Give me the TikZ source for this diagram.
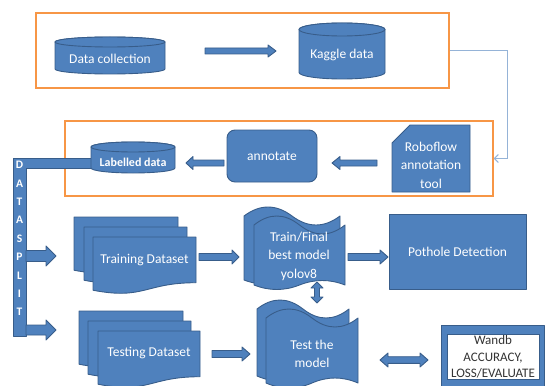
\documentclass[tikz,border=0pt]{standalone}
\usepackage{fontspec}
\setmainfont{Carlito}
\usetikzlibrary{arrows.meta}
\definecolor{fillb}{HTML}{4F81BD}
\definecolor{lineb}{HTML}{385D8A}
\definecolor{orng}{HTML}{F79646}
\definecolor{conn}{HTML}{95B3D7}
\tikzset{
  shp/.style={fill=fillb, draw=lineb, line width=0.9pt, line join=round},
  frame/.style={draw=orng, line width=1.3pt, inner sep=0pt},
  lbl/.style={text=white, font=\fontsize{13.5}{18.5}\selectfont, align=center, inner sep=0pt},
  lblb/.style={text=white, font=\fontsize{12}{13}\selectfont\bfseries, align=center, inner sep=0pt},
  dsl/.style={text=white, font=\fontsize{11.5}{12}\selectfont\bfseries, inner sep=0pt},
  wtxt/.style={text=black!80, font=\fontsize{13}{16.5}\selectfont, align=center, inner sep=0pt},
  conline/.style={draw=conn, line width=1pt, -{Straight Barb[length=4pt,width=8pt]}}
}
% cylinder: x1 x2 ytop ybot ry
\newcommand\cylndr[5]{%
  \filldraw[shp] (#1,#3+#5) -- (#1,#4-#5) arc[start angle=180,end angle=0,x radius={(#2-#1)/2},y radius=#5] -- (#2,#3+#5) arc[start angle=0,end angle=-180,x radius={(#2-#1)/2},y radius=#5] -- cycle;
  \draw[shp] ({(#1+#2)/2},#3+#5) ellipse[x radius={(#2-#1)/2},y radius=#5];}
% block arrows: x1 x2 y s hh hl
\newcommand\rarr[6]{\filldraw[shp] (#1,#3-#4) -- (#2-#6,#3-#4) -- (#2-#6,#3-#5) -- (#2,#3) -- (#2-#6,#3+#5) -- (#2-#6,#3+#4) -- (#1,#3+#4) -- cycle;}
\newcommand\larr[6]{\filldraw[shp] (#2,#3-#4) -- (#1+#6,#3-#4) -- (#1+#6,#3-#5) -- (#1,#3) -- (#1+#6,#3+#5) -- (#1+#6,#3+#4) -- (#2,#3+#4) -- cycle;}
\newcommand\hdarr[6]{\filldraw[shp] (#1,#3) -- (#1+#6,#3-#5) -- (#1+#6,#3-#4) -- (#2-#6,#3-#4) -- (#2-#6,#3-#5) -- (#2,#3) -- (#2-#6,#3+#5) -- (#2-#6,#3+#4) -- (#1+#6,#3+#4) -- (#1+#6,#3+#5) -- cycle;}
% vertical double arrow: x y1 y2 s hw hl
\newcommand\vdarr[6]{\filldraw[shp] (#1,#2) -- (#1+#5,#2+#6) -- (#1+#4,#2+#6) -- (#1+#4,#3-#6) -- (#1+#5,#3-#6) -- (#1,#3) -- (#1-#5,#3-#6) -- (#1-#4,#3-#6) -- (#1-#4,#2+#6) -- (#1-#5,#2+#6) -- cycle;}
% document: x y w h
\newcommand\docshp[4]{\filldraw[shp] (#1,#2) -- (#1+#3,#2) -- (#1+#3,#2+0.802*#4) .. controls (#1+0.5*#3,#2+0.802*#4) and (#1+0.5*#3,#2+1.1075*#4) .. (#1,#2+0.934*#4) -- cycle;}
% punched tape: x y w h a(top) b(bottom); top peak at y, bottom corners at y+h
\newcommand\tapeshp[6]{\filldraw[shp] (#1,#2+#5) .. controls (#1+0.1667*#3,#2-#5/3) and (#1+0.3333*#3,#2-#5/3) .. (#1+0.5*#3,#2+#5) .. controls (#1+0.6667*#3,#2+7*#5/3) and (#1+0.8333*#3,#2+7*#5/3) .. (#1+#3,#2+#5) -- (#1+#3,#2+#4) .. controls (#1+0.8333*#3,#2+#4-4*#6/3) and (#1+0.6667*#3,#2+#4-4*#6/3) .. (#1+0.5*#3,#2+#4) .. controls (#1+0.3333*#3,#2+#4+4*#6/3) and (#1+0.1667*#3,#2+#4+4*#6/3) .. (#1,#2+#4) -- cycle;}
\begin{document}
\begin{tikzpicture}[x=1pt,y=-1pt]
\useasboundingbox (0,0) rectangle (548,385);
% frames
\node[frame, minimum width=413pt, minimum height=75pt] (topframe) at (242.5,50.5) {};
\node[frame, minimum width=428pt, minimum height=75pt] (midframe) at (279,158.5) {};
\draw[conline] (topframe.east) -- ++(58,0) |- (midframe.east);
% top row
\cylndr{55}{165}{37}{74}{5}
\node[lbl] (datacol) at (110,59) {Data collection};
\rarr{205}{276}{51}{3}{6}{8}
\cylndr{299}{385}{23}{79}{6.5}
\node[lbl] (kaggle) at (342,55) {Kaggle data};
% datasplit bar
\filldraw[shp] (13,158) -- (95,158) -- (95,168) -- (26,168) -- (26,336) -- (13,336) -- cycle;
\foreach \ch [count=\i from 0] in {D,A,T,A,S,P,L,I,T}
  \node[dsl] (ds\i) at (19.5,{165+18.4*\i}) {\ch};
% middle row
\cylndr{91}{175}{142}{173}{5}
\node[lblb] (labelled) at (133,162) {Labelled data};
\larr{186}{224}{163}{3}{6.5}{7}
\node[shp, rounded corners=8pt, minimum width=90pt, minimum height=52pt, lbl] (annot) at (272,156) {annotate};
\larr{332}{377}{163}{3}{6.5}{8}
\filldraw[shp] (410,125) -- (470,125) -- (470,192) -- (392,192) -- (392,143) -- cycle;
\node[lbl] (robo) at (431,165) {Roboflow\\annotation\\tool};
% datasplit arrows
\rarr{26}{56}{256}{5.5}{10}{10}
\rarr{26}{56}{330}{5}{10}{10}
% training dataset
\docshp{74}{217}{104}{57}
\docshp{84}{227}{103}{57}
\docshp{93}{237}{103}{57}
\node[lbl] (train) at (144.5,260) {Training Dataset};
\rarr{199}{239}{257}{3.5}{7}{7}
% testing dataset
\docshp{79}{311}{104}{57}
\docshp{88}{321}{103}{57}
\docshp{98}{331}{102}{57}
\node[lbl] (test) at (149,353) {Testing Dataset};
\rarr{212}{250}{354}{3.5}{7}{8}
% train / final model
\tapeshp{244}{207}{96}{73}{9}{4.5}
\tapeshp{254}{216}{91}{69}{9}{4.5}
\node[lbl] (model) at (299,256) {Train/Final\\best model\\yolov8};
\rarr{348}{388}{257}{3.5}{7}{8}
\node[shp, minimum width=137pt, minimum height=75pt, lbl] (pothole) at (457.5,251.5) {Pothole Detection};
\vdarr{317}{282}{303}{2.5}{6}{6}
% test the model
\tapeshp{257}{300}{92}{76}{9}{5}
\tapeshp{266}{309}{92}{74}{9}{5}
\node[lbl] (testmodel) at (312,354) {Test the\\model};
\hdarr{380}{428}{360}{3.3}{7}{8}
% wandb
\filldraw[shp] (441,325) rectangle (544,392);
\filldraw[fill=white, draw=lineb, line width=0.8pt] (447,334) rectangle (539,379);
\node[wtxt] (wandb) at (493,357) {Wandb\\ACCURACY,\\LOSS/EVALUATE};
\end{tikzpicture}
\end{document}
